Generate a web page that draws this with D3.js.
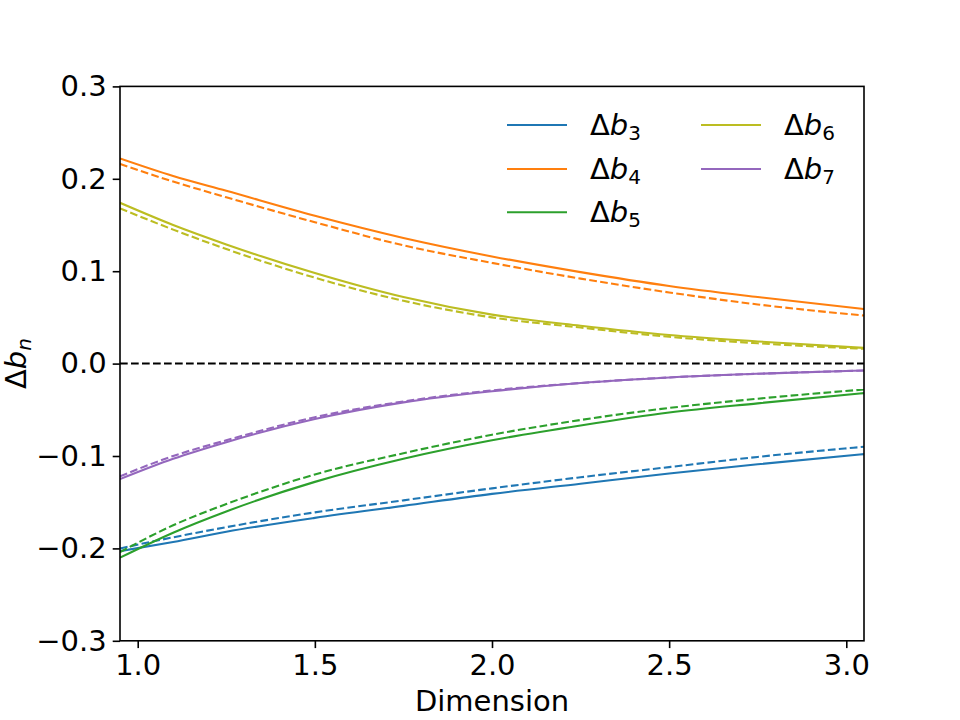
<!DOCTYPE html>
<html>
<head>
<meta charset="utf-8">
<script src="https://cdn.jsdelivr.net/npm/d3@7"></script>
<style>
  body { margin: 0; background: #fff; }
  text { font-family: "DejaVu Sans", sans-serif; }
</style>
</head>
<body>
<script>
// values
var dims = [0.95, 1.1, 1.25, 1.5, 1.75, 2.0, 2.25, 2.5, 2.75, 3.05];

var b3Solid  = [-0.203, -0.193, -0.182, -0.167, -0.154, -0.141, -0.130, -0.119, -0.109, -0.098];
var b3Dashed = [-0.200, -0.188, -0.177, -0.161, -0.148, -0.135, -0.123, -0.112, -0.101, -0.090];
var b4Solid  = [0.222, 0.203, 0.187, 0.160, 0.136, 0.116, 0.099, 0.084, 0.072, 0.059];
var b4Dashed = [0.216, 0.197, 0.180, 0.153, 0.128, 0.109, 0.092, 0.077, 0.064, 0.052];
var b5Solid  = [-0.210, -0.183, -0.160, -0.128, -0.103, -0.083, -0.067, -0.053, -0.043, -0.032];
var b5Dashed = [-0.204, -0.175, -0.152, -0.120, -0.097, -0.077, -0.061, -0.048, -0.038, -0.028];
var b6Solid  = [0.174, 0.150, 0.129, 0.098, 0.072, 0.053, 0.041, 0.031, 0.024, 0.017];
var b6Dashed = [0.168, 0.145, 0.124, 0.093, 0.068, 0.050, 0.039, 0.029, 0.022, 0.016];
var b7Solid  = [-0.125, -0.103, -0.085, -0.060, -0.042, -0.030, -0.021, -0.015, -0.011, -0.0075];
var b7Dashed = [-0.122, -0.100, -0.083, -0.058, -0.041, -0.029, -0.021, -0.015, -0.011, -0.0075];

var seriesNames = ["3", "4", "5", "6", "7"];
var seriesColors = ["#1f77b4", "#ff7f0e", "#2ca02c", "#bcbd22", "#9467bd"];
var solids = [b3Solid, b4Solid, b5Solid, b6Solid, b7Solid];
var dashes = [b3Dashed, b4Dashed, b5Dashed, b6Dashed, b7Dashed];

var xTicks = [1.0, 1.5, 2.0, 2.5, 3.0];
var yTicks = [-0.3, -0.2, -0.1, 0.0, 0.1, 0.2, 0.3];

var W = 960, H = 720;
// (window.top is read-only, so plot edges get their own names)
var plotL = 120, plotR = 864, plotT = 86.4, plotB = 640.8;

var svg = d3.select("body").append("svg")
    .attr("width", W)
    .attr("height", H);

var x = d3.scaleLinear().domain([0.95, 3.05]).range([plotL, plotR]);
var y = d3.scaleLinear().domain([-0.3, 0.3]).range([plotB, plotT]);

svg.append("defs").append("clipPath").attr("id", "clip")
  .append("rect")
    .attr("x", plotL).attr("y", plotT)
    .attr("width", plotR - plotL).attr("height", plotB - plotT);

var plot = svg.append("g").attr("clip-path", "url(#clip)");

// zero line
plot.append("line")
    .attr("x1", plotL).attr("x2", plotR)
    .attr("y1", y(0)).attr("y2", y(0))
    .attr("stroke", "black")
    .attr("stroke-width", 2)
    .attr("stroke-dasharray", "7.7,3.3");

var line = d3.line()
    .x(function (d, i) { return x(dims[i]); })
    .y(function (d) { return y(d); })
    .curve(d3.curveMonotoneX);

for (var i = 0; i < solids.length; i++) {
    plot.append("path")
        .attr("d", line(solids[i]))
        .attr("fill", "none")
        .attr("stroke", seriesColors[i])
        .attr("stroke-width", 2.1);
    plot.append("path")
        .attr("d", line(dashes[i]))
        .attr("fill", "none")
        .attr("stroke", seriesColors[i])
        .attr("stroke-width", 2.1)
        .attr("stroke-dasharray", "7.7,3.3");
}

// axes
var xAxis = d3.axisBottom(x).tickValues(xTicks).tickFormat(d3.format(".1f"))
    .tickSize(7.3).tickPadding(6);
var yAxis = d3.axisLeft(y).tickValues(yTicks).tickFormat(d3.format(".1f"))
    .tickSize(7.3).tickPadding(6);

var gx = svg.append("g").attr("transform", "translate(0," + plotB + ")").call(xAxis);
var gy = svg.append("g").attr("transform", "translate(" + plotL + ",0)").call(yAxis);

[gx, gy].forEach(function (g) {
    g.select(".domain").remove();
    g.selectAll(".tick line").attr("stroke", "black").attr("stroke-width", 1.6);
    g.selectAll(".tick text")
        .attr("fill", "black")
        .style("font-size", "29px")
        .style("font-family", "'DejaVu Sans', sans-serif");
});

svg.append("rect")
    .attr("x", plotL).attr("y", plotT)
    .attr("width", plotR - plotL).attr("height", plotB - plotT)
    .attr("fill", "none")
    .attr("stroke", "black")
    .attr("stroke-width", 1.6);

svg.append("text")
    .attr("x", (plotL + plotR) / 2)
    .attr("y", 711)
    .attr("text-anchor", "middle")
    .style("font-size", "29px")
    .text("Dimension");

var yl = svg.append("text")
    .attr("transform", "translate(26," + ((plotT + plotB) / 2) + ") rotate(-90)")
    .attr("text-anchor", "middle")
    .style("font-size", "29px");
yl.append("tspan").text("Δ");
yl.append("tspan").style("font-style", "italic").text("b");
yl.append("tspan").style("font-style", "italic").style("font-size", "20px").attr("dy", 5).text("n");

// legend
var legendPos = [[507, 125], [507, 169], [507, 212.3], [701, 125], [701, 169]];
for (var j = 0; j < seriesNames.length; j++) {
    var lx = legendPos[j][0], ly = legendPos[j][1];
    svg.append("line")
        .attr("x1", lx).attr("x2", lx + 60)
        .attr("y1", ly).attr("y2", ly)
        .attr("stroke", seriesColors[j])
        .attr("stroke-width", 2.1);
    var t = svg.append("text")
        .attr("x", lx + 83)
        .attr("y", ly + 10)
        .style("font-size", "29px");
    t.append("tspan").text("Δ");
    t.append("tspan").style("font-style", "italic").text("b");
    t.append("tspan").style("font-size", "20px").attr("dy", 5).text(seriesNames[j]);
}
</script>
</body>
</html>
